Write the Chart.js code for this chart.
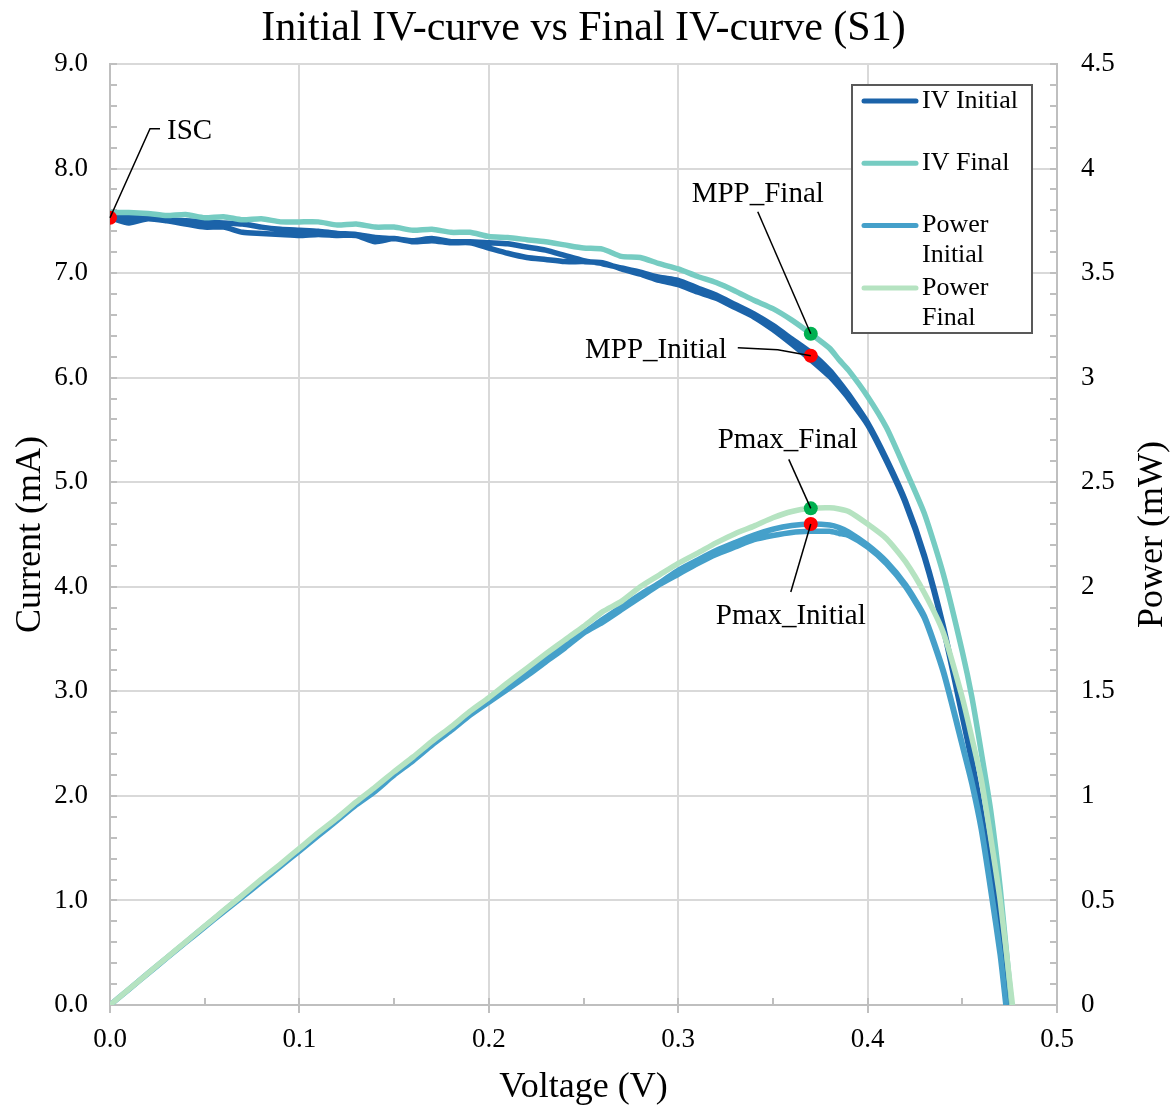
<!DOCTYPE html>
<html>
<head>
<meta charset="utf-8">
<script src="https://cdn.jsdelivr.net/npm/chart.js@4/dist/chart.umd.min.js"></script>
<style>
  html, body { margin: 0; padding: 0; background: #fff; }
  #wrap { width: 1176px; height: 1108px; }
</style>
</head>
<body>
<div id="wrap"><canvas id="ivChart" width="1176" height="1108"></canvas></div>
<script>
// voltage steps (V), open-circuit voltage appended per series
const voltageSteps = [
  0, 0.01, 0.02, 0.03, 0.04, 0.05, 0.06, 0.07, 0.08, 0.09,
  0.10, 0.11, 0.12, 0.13, 0.14, 0.15, 0.16, 0.17, 0.18, 0.19,
  0.20, 0.21, 0.22, 0.23, 0.24, 0.25, 0.26, 0.27, 0.28, 0.29,
  0.30, 0.31, 0.32, 0.33, 0.34, 0.35, 0.36, 0.37, 0.38, 0.385,
  0.39, 0.40, 0.41, 0.42, 0.43, 0.44, 0.45, 0.455, 0.46, 0.465,
  0.47
];
const vocIvInitial = 0.4735;
const vocIvFinal = 0.476;
const vocPowerInitial = 0.473;
const vocPowerFinal = 0.4765;

// current (mA) - initial sweep goes forward then back
const currentInitialFwd = [
  7.53, 7.53, 7.53, 7.51, 7.50, 7.49, 7.48, 7.47, 7.44, 7.42,
  7.41, 7.40, 7.38, 7.37, 7.34, 7.33, 7.31, 7.33, 7.30, 7.30,
  7.29, 7.28, 7.25, 7.22, 7.17, 7.12, 7.09, 7.05, 7.01, 6.96,
  6.93, 6.86, 6.79, 6.70, 6.61, 6.50, 6.37, 6.24, 6.07, 5.96,
  5.84, 5.57, 5.22, 4.82, 4.30, 3.62, 2.78, 2.35, 1.85, 1.30,
  0.70, 0
];
const currentInitialRev = [
  7.53, 7.48, 7.52, 7.50, 7.47, 7.44, 7.44, 7.39, 7.38, 7.37,
  7.36, 7.37, 7.36, 7.36, 7.30, 7.33, 7.30, 7.31, 7.29, 7.29,
  7.24, 7.19, 7.15, 7.13, 7.11, 7.11, 7.10, 7.04, 6.99, 6.93,
  6.89, 6.82, 6.76, 6.67, 6.58, 6.46, 6.32, 6.17, 6.01, 5.91,
  5.80, 5.55, 5.20, 4.80, 4.28, 3.60, 2.76, 2.33, 1.83, 1.28,
  0.68, 0
];
const currentFinal = [
  7.58, 7.58, 7.57, 7.55, 7.56, 7.53, 7.54, 7.51, 7.52, 7.49,
  7.49, 7.49, 7.46, 7.47, 7.44, 7.44, 7.41, 7.42, 7.39, 7.39,
  7.35, 7.34, 7.32, 7.30, 7.27, 7.24, 7.23, 7.16, 7.15, 7.09,
  7.04, 6.97, 6.91, 6.83, 6.74, 6.66, 6.55, 6.42, 6.28, 6.17,
  6.07, 5.82, 5.52, 5.12, 4.70, 4.12, 3.38, 2.95, 2.42, 1.86,
  1.12, 0
];

// power (mW)
const powerInitialFwd = [
  0, 0.075, 0.151, 0.225, 0.300, 0.375, 0.449, 0.523, 0.595, 0.668,
  0.741, 0.814, 0.886, 0.958, 1.028, 1.100, 1.170, 1.246, 1.314, 1.387,
  1.458, 1.529, 1.595, 1.661, 1.721, 1.780, 1.843, 1.904, 1.963, 2.018,
  2.079, 2.127, 2.173, 2.211, 2.247, 2.275, 2.293, 2.300, 2.295, 2.283,
  2.262, 2.200, 2.120, 2.010, 1.860, 1.600, 1.250, 1.070, 0.850, 0.560,
  0.250, 0
];
const powerInitialRev = [
  0, 0.075, 0.150, 0.225, 0.299, 0.372, 0.446, 0.517, 0.590, 0.663,
  0.736, 0.810, 0.883, 0.957, 1.022, 1.100, 1.168, 1.243, 1.312, 1.385,
  1.448, 1.510, 1.573, 1.640, 1.706, 1.778, 1.830, 1.890, 1.950, 2.010,
  2.060, 2.110, 2.155, 2.190, 2.225, 2.245, 2.260, 2.265, 2.265, 2.255,
  2.245, 2.190, 2.110, 2.000, 1.850, 1.590, 1.240, 1.060, 0.840, 0.550,
  0.240, 0
];
const powerFinal = [
  0, 0.076, 0.151, 0.227, 0.302, 0.377, 0.452, 0.526, 0.602, 0.674,
  0.749, 0.824, 0.895, 0.971, 1.042, 1.116, 1.186, 1.261, 1.330, 1.404,
  1.470, 1.541, 1.610, 1.679, 1.745, 1.810, 1.880, 1.930, 2.000, 2.056,
  2.112, 2.160, 2.210, 2.254, 2.290, 2.330, 2.360, 2.375, 2.378, 2.372,
  2.360, 2.300, 2.230, 2.120, 1.970, 1.780, 1.470, 1.280, 1.080, 0.800,
  0.500, 0
];

// marked points
const markerNames = ["ISC", "MPP_Final", "MPP_Initial", "Pmax_Final", "Pmax_Initial"];
const markerVoltage = [0, 0.37, 0.37, 0.37, 0.37];
const markerValue = [7.53, 6.42, 6.21, 2.375, 2.30];
const markerAxis = ["y", "y", "y", "y2", "y2"];
const markerColors = ["#ff0000", "#00b050", "#ff0000", "#00b050", "#ff0000"];

const seriesNames = ["IV Initial", "IV Final", "Power Initial", "Power Final"];
const seriesColors = ["#1b63a9", "#76ccc2", "#45a0ca", "#b5e3c1"];

const SERIF = "'Liberation Serif', 'Times New Roman', serif";

function toPoints(volts, vals) {
  return volts.map((v, i) => ({ x: v, y: vals[i] }));
}
function loopPoints(volts, fwd, rev) {
  const back = toPoints(volts, rev).reverse();
  return toPoints(volts, fwd).concat(back);
}

const vIvInitial = voltageSteps.concat([vocIvInitial]);
const vIvFinal = voltageSteps.concat([vocIvFinal]);
const vPowerInitial = voltageSteps.concat([vocPowerInitial]);
const vPowerFinal = voltageSteps.concat([vocPowerFinal]);

function lineSet(idx, data, axis, order) {
  return {
    label: seriesNames[idx],
    data: data,
    yAxisID: axis,
    borderColor: seriesColors[idx],
    backgroundColor: seriesColors[idx],
    borderWidth: 5.5,
    pointRadius: 0,
    tension: 0.2,
    showLine: true,
    fill: false,
    order: order,
  };
}

const datasets = [
  lineSet(0, loopPoints(vIvInitial, currentInitialFwd, currentInitialRev), "y", 14),
  lineSet(1, toPoints(vIvFinal, currentFinal), "y", 13),
  lineSet(2, loopPoints(vPowerInitial, powerInitialFwd, powerInitialRev), "y2", 12),
  lineSet(3, toPoints(vPowerFinal, powerFinal), "y2", 11),
];
markerNames.forEach((name, i) => {
  datasets.push({
    label: name,
    data: [{ x: markerVoltage[i], y: markerValue[i] }],
    yAxisID: markerAxis[i],
    pointRadius: 7,
    pointBackgroundColor: markerColors[i],
    pointBorderColor: markerColors[i],
    pointBorderWidth: 0,
    showLine: false,
    order: 1,
    isMarker: true,
  });
});

// leader line / label layout relative to each marker (px)
const markerLabelLayout = {
  ISC: { path: [[50, -89], [40, -89]], text: [57, -86], align: "left" },
  MPP_Final: { path: [[-53, -122]], text: [-53, -139], align: "center" },
  MPP_Initial: { path: [[-73, -8], [-33, -6]], text: [-84, -5], align: "right" },
  Pmax_Final: { path: [[-22, -49]], text: [-23, -68], align: "center" },
  Pmax_Initial: { path: [[-20, 68]], text: [-20, 92], align: "center" },
};

const decorPlugin = {
  id: "decor",
  beforeDatasetsDraw(chart) {
    const { ctx, chartArea, scales } = chart;
    ctx.save();
    ctx.strokeStyle = "#bfbfbf";
    ctx.lineWidth = 2;
    ctx.beginPath();
    // minor ticks, inside the plot
    for (let v = 0; v <= 0.5001; v += 0.05) {
      const x = Math.round(scales.x.getPixelForValue(v));
      ctx.moveTo(x, chartArea.bottom);
      ctx.lineTo(x, chartArea.bottom - 7);
    }
    for (let v = 0; v <= 9.001; v += 0.2) {
      const y = Math.round(scales.y.getPixelForValue(v));
      ctx.moveTo(chartArea.left, y);
      ctx.lineTo(chartArea.left + 7, y);
    }
    for (let v = 0; v <= 4.501; v += 0.1) {
      const y = Math.round(scales.y2.getPixelForValue(v));
      ctx.moveTo(chartArea.right, y);
      ctx.lineTo(chartArea.right - 7, y);
    }
    ctx.stroke();
    ctx.restore();
  },
  afterDatasetsDraw(chart) {
    const { ctx, chartArea } = chart;
    ctx.save();
    // marker labels and leader lines
    chart.data.datasets.forEach((ds, i) => {
      if (!ds.isMarker) return;
      const pt = chart.getDatasetMeta(i).data[0];
      const lay = markerLabelLayout[ds.label];
      ctx.strokeStyle = "#000";
      ctx.lineWidth = 1.5;
      ctx.beginPath();
      lay.path.forEach((p, k) => {
        if (k === 0) ctx.moveTo(pt.x + p[0], pt.y + p[1]);
        else ctx.lineTo(pt.x + p[0], pt.y + p[1]);
      });
      ctx.lineTo(pt.x, pt.y);
      ctx.stroke();
      ctx.fillStyle = "#000";
      ctx.font = "29px " + SERIF;
      ctx.textAlign = lay.align;
      ctx.textBaseline = "middle";
      ctx.fillText(ds.label, pt.x + lay.text[0], pt.y + lay.text[1]);
    });

    // legend box
    const bx = chartArea.right - 205, by = chartArea.top + 21, bw = 180, bh = 248;
    ctx.fillStyle = "#fff";
    ctx.fillRect(bx, by, bw, bh);
    ctx.strokeStyle = "#595959";
    ctx.lineWidth = 2;
    ctx.strokeRect(bx, by, bw, bh);
    ctx.font = "26px " + SERIF;
    ctx.textAlign = "left";
    ctx.textBaseline = "middle";
    seriesNames.forEach((name, i) => {
      const y = by + 16 + i * 62.3;
      ctx.strokeStyle = seriesColors[i];
      ctx.lineWidth = 5;
      ctx.lineCap = "round";
      ctx.beginPath();
      ctx.moveTo(bx + 12, y);
      ctx.lineTo(bx + 64, y);
      ctx.stroke();
      // wrap long names
      const words = name.split(" ");
      const lines = [];
      let cur = "";
      words.forEach(w => {
        const test = cur ? cur + " " + w : w;
        if (cur && ctx.measureText(test).width > 102) { lines.push(cur); cur = w; }
        else cur = test;
      });
      lines.push(cur);
      ctx.fillStyle = "#000";
      lines.forEach((t, k) => ctx.fillText(t, bx + 70, y + k * 30));
    });

    // title and axis titles
    ctx.fillStyle = "#000";
    ctx.textAlign = "center";
    ctx.textBaseline = "middle";
    ctx.font = "42px " + SERIF;
    ctx.fillText("Initial IV-curve vs Final IV-curve (S1)", (chartArea.left + chartArea.right) / 2, 29);
    ctx.font = "36px " + SERIF;
    ctx.fillText("Voltage (V)", (chartArea.left + chartArea.right) / 2, 1088);
    const midY = (chartArea.top + chartArea.bottom) / 2;
    ctx.save();
    ctx.translate(31, midY);
    ctx.rotate(-Math.PI / 2);
    ctx.fillText("Current (mA)", 0, 0);
    ctx.restore();
    ctx.save();
    ctx.translate(1153, midY);
    ctx.rotate(-Math.PI / 2);
    ctx.fillText("Power (mW)", 0, 0);
    ctx.restore();
    ctx.restore();
  },
};

const ctx = document.getElementById("ivChart").getContext("2d");
new Chart(ctx, {
  type: "scatter",
  data: { datasets: datasets },
  options: {
    responsive: false,
    animation: false,
    layout: { padding: { top: 64, left: 0, right: 0, bottom: 0 } },
    plugins: {
      legend: { display: false },
      tooltip: { enabled: false },
      title: { display: false },
    },
    scales: {
      x: {
        type: "linear",
        min: 0,
        max: 0.5,
        afterFit: (s) => { s.height = 103; },
        ticks: {
          stepSize: 0.1,
          color: "#000",
          padding: 11,
          font: { family: SERIF, size: 27 },
          callback: (v) => v.toFixed(1),
        },
        grid: { color: "#d9d9d9", lineWidth: 2, tickLength: 8, tickColor: "#bfbfbf" },
        border: { color: "#bfbfbf", width: 2 },
      },
      y: {
        position: "left",
        min: 0,
        max: 9,
        afterFit: (s) => { s.width = 110; },
        ticks: {
          stepSize: 1,
          color: "#000",
          padding: 22,
          font: { family: SERIF, size: 27 },
          callback: (v) => v.toFixed(1),
        },
        grid: { color: "#d9d9d9", lineWidth: 2, drawTicks: false },
        border: { color: "#bfbfbf", width: 2 },
      },
      y2: {
        position: "right",
        min: 0,
        max: 4.5,
        afterFit: (s) => { s.width = 119; },
        ticks: {
          stepSize: 0.5,
          color: "#000",
          padding: 24,
          font: { family: SERIF, size: 27 },
          callback: (v) => String(Math.round(v * 10) / 10),
        },
        grid: { drawOnChartArea: false, drawTicks: false },
        border: { color: "#bfbfbf", width: 2 },
      },
    },
  },
  plugins: [decorPlugin],
});
</script>
</body>
</html>
